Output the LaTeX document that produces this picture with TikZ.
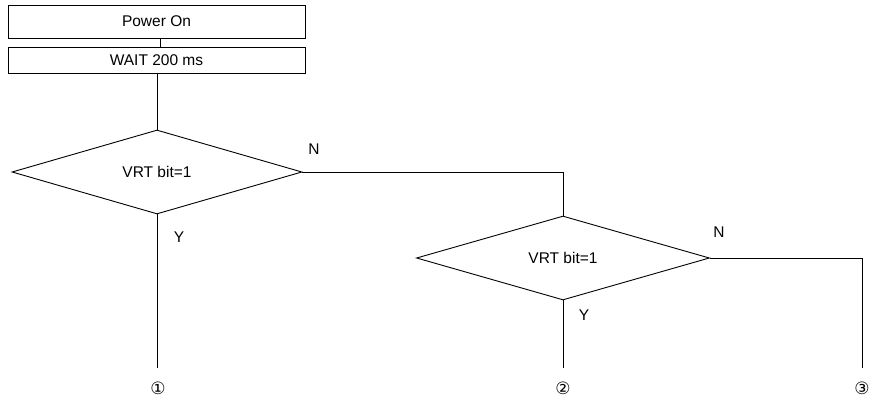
\documentclass[tikz,border=0pt]{standalone}
\usepackage{fontspec}
\setmainfont{Liberation Sans}
\newfontfamily\symfont{DejaVu Sans}
\usetikzlibrary{shapes.geometric}
\begin{document}
\begin{tikzpicture}[x=1pt,y=-1pt,line width=0.9pt,
  every node/.style={font=\fontsize{15.5}{18}\selectfont},
  procbox/.style={draw,rectangle,minimum width=297pt,inner sep=0pt},
  decision/.style={draw,diamond,minimum width=290pt,minimum height=84pt,inner sep=0pt},
  lbl/.style={inner sep=0pt},
  term/.style={inner sep=0pt,font=\symfont\fontsize{17}{19}\selectfont}]
\useasboundingbox (0,0) rectangle (871,403);
\node[procbox,minimum height=33pt] (pon) at (156.5,21.5) {Power On};
\node[procbox,minimum height=26pt] (wait) at (156.5,60) {WAIT 200 ms};
\node[decision] (d1) at (157,172) {VRT bit=1};
\node[decision,minimum width=293pt] (d2) at (563,258) {VRT bit=1};
\node[term] (t1) at (158,388) {①};
\node[term] (t2) at (563,388) {②};
\node[term] (t3) at (862,388) {③};
\coordinate (e1) at (158,368);
\coordinate (e2) at (563,368);
\coordinate (e3) at (862,368);
\draw (pon.south -| 160,0) -- (wait.north -| 160,0);
\draw (wait.south -| d1.north) -- (d1.north);
\draw (d1.east) -| (d2.north);
\draw (d1.south) -- (e1 -| d1.south);
\draw (d2.south) -- (e2);
\draw (d2.east) -| (e3);
\node[lbl] at (314,149) {N};
\node[lbl] at (179,237) {Y};
\node[lbl] at (719,232) {N};
\node[lbl] at (584,315) {Y};
\end{tikzpicture}
\end{document}
